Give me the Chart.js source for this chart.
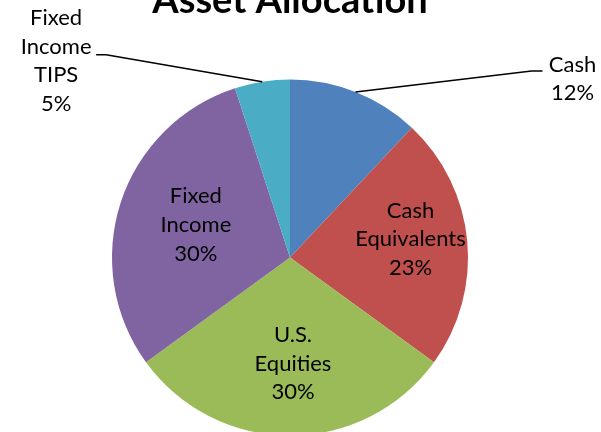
<!DOCTYPE html>
<html>
<head>
<meta charset="utf-8">
<script src="https://cdn.jsdelivr.net/npm/chart.js@4"></script>
<style>
  html, body { margin: 0; padding: 0; background: #fff; overflow: hidden; }
  #wrap { position: absolute; left: 0; top: -24px; width: 601px; height: 480px; }
</style>
</head>
<body>
<div id="wrap"><canvas id="pie-allocation" width="601" height="480"></canvas></div>
<script>
const categories = ['Cash', 'Cash Equivalents', 'U.S. Equities', 'Fixed Income', 'Fixed Income TIPS'];
const shares = [12, 23, 30, 30, 5];
const sliceColors = ['#4F81BD', '#C0504D', '#9BBB59', '#8064A2', '#4BACC6'];

// where each label goes: inside at a fraction of the radius, or outside with a leader line
const placement = [
  { outside: true, elbow: [176, -21], end: [187, -21], text: [217, -13] },
  { r: 0.68, dx: 0, dy: -7 },
  { r: 0.59, dx: 3, dy: 1 },
  { r: 0.556, dx: 0, dy: -2 },
  { outside: true, elbow: [-156, -27], end: [-166, -27], text: [-206, -21] }
];

const sliceLabels = {
  id: 'sliceLabels',
  afterDatasetsDraw(chart) {
    const ctx = chart.ctx;
    const meta = chart.getDatasetMeta(0);
    const lh = 28.6;
    ctx.save();
    ctx.font = '22px Lato';
    ctx.fillStyle = '#000';
    ctx.strokeStyle = '#000';
    ctx.lineWidth = 1.6;
    ctx.textAlign = 'center';
    ctx.textBaseline = 'middle';
    meta.data.forEach((arc, i) => {
      const { x, y, startAngle, endAngle, outerRadius } = arc.getProps(['x', 'y', 'startAngle', 'endAngle', 'outerRadius'], true);
      const mid = (startAngle + endAngle) / 2;
      const p = placement[i];
      const lines = categories[i].split(' ').concat([shares[i] + '%']);
      let cx, cy;
      if (p.outside) {
        const ax = x + outerRadius * Math.cos(mid);
        const ay = y + outerRadius * Math.sin(mid);
        ctx.beginPath();
        ctx.moveTo(ax, ay);
        ctx.lineTo(ax + p.elbow[0], ay + p.elbow[1]);
        ctx.lineTo(ax + p.end[0], ay + p.end[1]);
        ctx.stroke();
        cx = ax + p.text[0];
        cy = ay + p.text[1];
      } else {
        cx = x + p.r * outerRadius * Math.cos(mid) + p.dx;
        cy = y + p.r * outerRadius * Math.sin(mid) + p.dy;
      }
      lines.forEach((t, k) => {
        ctx.fillText(t, cx, cy + (k - (lines.length - 1) / 2) * lh);
      });
    });
    ctx.restore();
  }
};

const configAllocation = {
  type: 'pie',
  data: {
    labels: categories,
    datasets: [{
      data: shares,
      backgroundColor: sliceColors,
      borderWidth: 0,
      radius: 178
    }]
  },
  options: {
    responsive: false,
    animation: false,
    devicePixelRatio: 1,
    layout: { padding: { left: 0, right: 21, top: 0, bottom: 20 } },
    plugins: {
      legend: { display: false },
      tooltip: { enabled: false },
      title: {
        display: true,
        text: 'Asset Allocation',
        color: '#000',
        font: { family: 'Lato', size: 38, weight: 'bold', lineHeight: 1.2 },
        padding: { top: 1.5, bottom: 56 }
      }
    }
  },
  plugins: [sliceLabels]
};

let pieAllocation = new Chart(document.getElementById('pie-allocation'), configAllocation);
</script>
</body>
</html>
